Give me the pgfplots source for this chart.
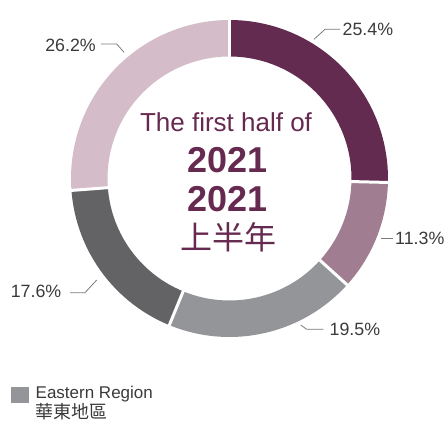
\documentclass[border=0pt]{standalone}
\usepackage{pgfplots}
\pgfplotsset{compat=1.18}
\usepackage{pgfplotstable}
\usepackage{fontspec}
\setmainfont{Liberation Sans}
\newfontfamily\cjk{Noto Sans CJK TC}
\definecolor{c1}{HTML}{632B4F}
\definecolor{c2}{HTML}{A07D90}
\definecolor{c3}{HTML}{949598}
\definecolor{c4}{HTML}{636366}
\definecolor{c5}{HTML}{D4BCC8}
\definecolor{ttl}{HTML}{66294F}
\definecolor{lbl}{HTML}{3A3A3A}
\definecolor{lead}{HTML}{7A7A7A}

\pgfplotstableread{
value col
25.4 c1
11.3 c2
19.5 c3
17.6 c4
26.2 c5
}\shares
\pgfplotstablecreatecol[expr accum={\pgfmathaccuma + \thisrow{value}}{0}]{cum}\shares

\begin{document}
\begin{tikzpicture}
\begin{axis}[x=1pt,y=1pt,xmin=0,xmax=447,ymin=0,ymax=422,hide axis,clip=false]
\path (axis cs:0,0) rectangle (axis cs:447,422);
\pgfplotsinvokeforeach{0,...,4}{
 \pgfplotstablegetelem{#1}{value}\of\shares \let\v\pgfplotsretval
 \pgfplotstablegetelem{#1}{cum}\of\shares \let\c\pgfplotsretval
 \pgfplotstablegetelem{#1}{col}\of\shares \let\cc\pgfplotsretval
 \pgfmathsetmacro\aend{90-3.6*\c}
 \pgfmathsetmacro\astart{\aend+3.6*\v}
 \pgfmathsetmacro\xo{229.5+158.5*cos(\astart)}
 \pgfmathsetmacro\yo{243.5+158.5*sin(\astart)}
 \pgfmathsetmacro\xi{229.5+122*cos(\aend)}
 \pgfmathsetmacro\yi{243.5+122*sin(\aend)}
 \edef\temp{\noexpand\fill[\cc] (axis cs:\xo,\yo) arc[start angle=\astart,end angle=\aend,radius=158.5pt] -- (axis cs:\xi,\yi) arc[start angle=\aend,end angle=\astart,radius=122pt] -- cycle;}
 \temp
}
\pgfplotsinvokeforeach{0,...,4}{
 \pgfplotstablegetelem{#1}{cum}\of\shares \let\c\pgfplotsretval
 \pgfmathsetmacro\aend{90-3.6*\c}
 \pgfmathsetmacro\xa{229.5+118*cos(\aend)}
 \pgfmathsetmacro\ya{243.5+118*sin(\aend)}
 \pgfmathsetmacro\xb{229.5+162*cos(\aend)}
 \pgfmathsetmacro\yb{243.5+162*sin(\aend)}
 \edef\temp{\noexpand\draw[white,line width=3pt] (axis cs:\xa,\ya) -- (axis cs:\xb,\yb);}
 \temp
}
% centre text
\node[ttl,font=\fontsize{26}{26}\selectfont] at (axis cs:226,300) {The first half of};
\node[ttl,font=\fontsize{36}{36}\selectfont\bfseries] at (axis cs:227.5,262) {2021};
\node[ttl,font=\fontsize{36}{36}\selectfont\bfseries] at (axis cs:227.5,223) {2021};
\node[ttl,font=\fontsize{32}{32}\selectfont\cjk] at (axis cs:228.5,185) {上半年};
% labels and leaders
\draw[lead,line width=0.8pt] (axis cs:314,382.7) -- (axis cs:325,392.7) -- (axis cs:340,392.7);
\node[lbl,anchor=west,inner sep=0pt,font=\fontsize{17.8}{17.8}\selectfont] at (axis cs:342.5,392.5) {25.4\%};
\draw[lead,line width=0.8pt] (axis cs:381,184) -- (axis cs:393,184);
\node[lbl,anchor=west,inner sep=0pt,font=\fontsize{17.8}{17.8}\selectfont] at (axis cs:395,184) {11.3\%};
\draw[lead,line width=0.8pt] (axis cs:300.7,97) -- (axis cs:306.7,92.7) -- (axis cs:323.3,92.7);
\node[lbl,anchor=west,inner sep=0pt,font=\fontsize{17.8}{17.8}\selectfont] at (axis cs:329.5,93) {19.5\%};
\draw[lead,line width=0.8pt] (axis cs:70,129.3) -- (axis cs:85,129.3) -- (axis cs:96.7,142);
\node[lbl,anchor=east,inner sep=0pt,font=\fontsize{17.8}{17.8}\selectfont] at (axis cs:61.5,130.5) {17.6\%};
\draw[lead,line width=0.8pt] (axis cs:101,378) -- (axis cs:116.7,378) -- (axis cs:124,369.7);
\node[lbl,anchor=east,inner sep=0pt,font=\fontsize{17.8}{17.8}\selectfont] at (axis cs:96,376.5) {26.2\%};
% legend
\fill[c3] (axis cs:11,19) rectangle (axis cs:29,35);
\node[lbl,anchor=west,inner sep=0pt,font=\fontsize{17}{17}\selectfont] at (axis cs:35.5,27.5) {Eastern Region};
\node[lbl,anchor=west,inner sep=0pt,font=\fontsize{18}{18}\selectfont\cjk] at (axis cs:35.5,10.5) {華東地區};
\end{axis}
\end{tikzpicture}
\end{document}
